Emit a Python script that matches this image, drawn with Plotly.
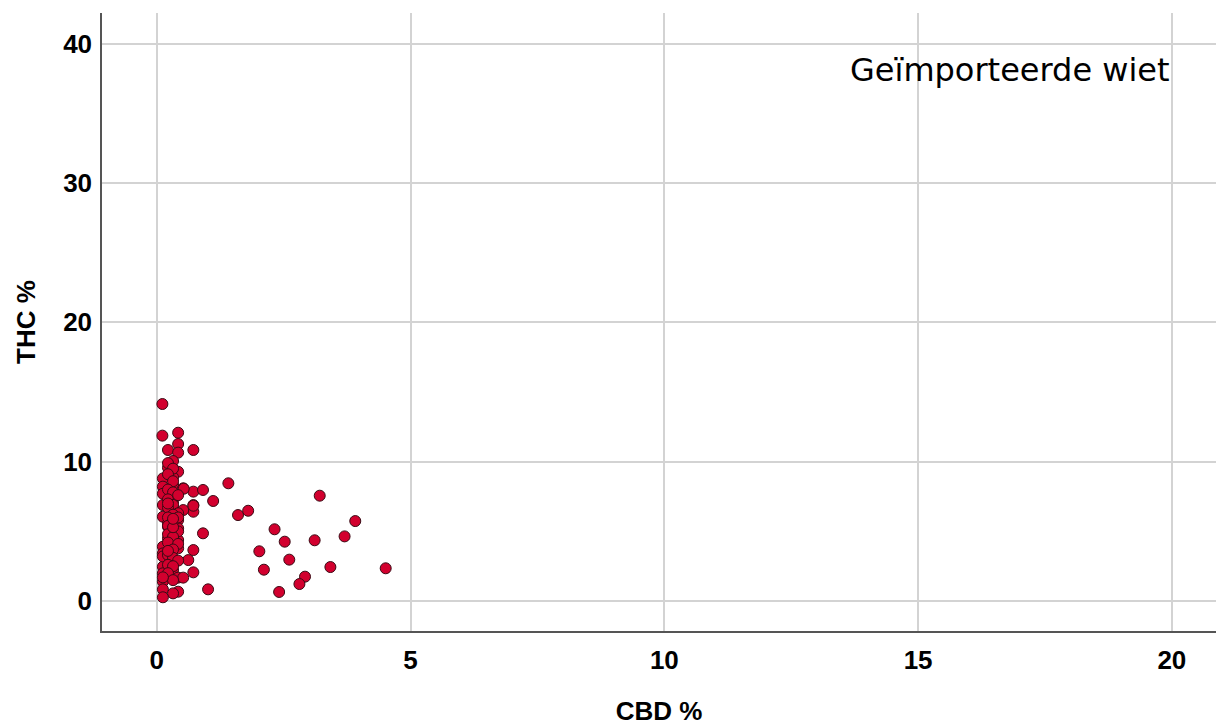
import plotly.graph_objects as go

cbd = [0.11, 0.11, 0.42, 0.42, 0.22, 0.42, 0.72, 0.32, 0.22, 0.42, 0.12, 0.32, 0.32, 0.12,
       0.52, 0.72, 0.91, 1.41, 0.12, 0.32, 0.12, 0.32, 1.11, 0.72, 0.72, 0.52, 0.32, 1.60,
       1.80, 0.12, 0.22, 0.42, 0.22, 0.42, 0.32, 0.91, 0.22, 0.42, 0.32, 0.12, 0.42, 0.72,
       0.12, 0.22, 0.62, 0.12, 0.32, 0.72, 0.42, 0.52, 0.12, 0.12, 0.12, 0.42, 0.32, 1.01,
       0.12, 3.21, 3.91, 3.70, 3.11, 2.32, 2.52, 2.02, 2.61, 3.42, 4.51, 2.11, 2.92, 2.81,
       2.41, 0.53, 0.72, 0.22, 0.32, 0.22, 0.32, 0.22, 0.32, 0.22, 0.32, 0.22, 0.42, 0.32,
       0.22, 0.32, 0.22, 0.42, 0.22, 0.32, 0.22, 0.42, 0.32, 0.12, 0.22, 0.32, 0.22, 0.42,
       0.32, 0.22, 0.32, 0.12, 0.42, 0.22, 0.32, 0.42, 0.22, 0.32]
thc = [14.14, 11.87, 12.08, 11.27, 10.84, 10.65, 10.84, 10.05, 9.57, 9.28, 8.80, 8.88, 8.33, 8.21,
       8.09, 7.85, 7.97, 8.45, 7.70, 7.49, 6.89, 7.13, 7.18, 6.89, 6.41, 6.53, 6.65, 6.17,
       6.48, 6.05, 5.58, 5.81, 5.33, 5.22, 4.98, 4.86, 4.50, 4.38, 4.02, 3.90, 3.78, 3.66,
       3.42, 2.82, 2.94, 2.46, 2.22, 2.06, 1.68, 1.68, 1.99, 1.39, 0.84, 0.67, 0.55, 0.84,
       0.27, 7.56, 5.74, 4.64, 4.36, 5.15, 4.26, 3.57, 2.97, 2.44, 2.35, 2.25, 1.75, 1.22,
       0.65, 8.06, 6.84, 9.90, 9.50, 9.10, 8.60, 8.00, 7.80, 7.30, 6.90, 6.70, 6.30, 6.20,
       6.00, 5.70, 5.40, 5.00, 4.80, 4.60, 4.20, 4.10, 3.70, 3.20, 3.30, 3.10, 2.60, 2.90,
       2.50, 2.00, 1.50, 1.70, 7.60, 7.00, 5.30, 6.00, 3.60, 5.90]

x_ticks = [0, 5, 10, 15, 20]
y_ticks = [0, 10, 20, 30, 40]
x_title = "CBD %"
y_title = "THC %"
label = "Geïmporteerde wiet"

fig = go.Figure()
fig.add_trace(go.Scatter(
    x=cbd, y=thc, mode="markers",
    marker=dict(size=11, color="#d2002e", line=dict(color="#3a0a14", width=1)),
    showlegend=False, hoverinfo="skip"))

fig.add_annotation(text=label, xref="x", yref="y", x=20, y=38.1,
                   xanchor="right", yanchor="middle", showarrow=False,
                   font=dict(family="DejaVu Sans", size=32, color="#000000"))

axis_font = dict(family="Liberation Sans", size=26, color="#000000")
fig.update_layout(
    width=1218, height=726,
    margin=dict(l=102, r=2, t=13, b=95),
    paper_bgcolor="white", plot_bgcolor="white",
    xaxis=dict(range=[-1.08, 20.87], tickvals=x_ticks, ticktext=[f"<b>{v}</b>" for v in x_ticks],
               tickfont=axis_font, showgrid=True, gridcolor="#d3d3d3", gridwidth=1.5,
               zeroline=False, showline=True, linecolor="#555555", linewidth=1.5,
               ticks="", ticklabelstandoff=5, automargin=False,
               title=dict(text=f"<b>{x_title}</b>", font=axis_font, standoff=37)),
    yaxis=dict(range=[-2.15, 42.2], tickvals=y_ticks, ticktext=[f"<b>{v}</b>" for v in y_ticks],
               tickfont=axis_font, showgrid=True, gridcolor="#d3d3d3", gridwidth=1.5,
               zeroline=False, showline=True, linecolor="#555555", linewidth=1.5,
               ticks="", ticklabelstandoff=3, automargin=False,
               title=dict(text=f"<b>{y_title}</b>", font=axis_font, standoff=20)),
)
fig.write_html("out.html", config={"displayModeBar": False},
               post_script="document.body.style.margin='0';document.body.style.overflow='hidden';")
